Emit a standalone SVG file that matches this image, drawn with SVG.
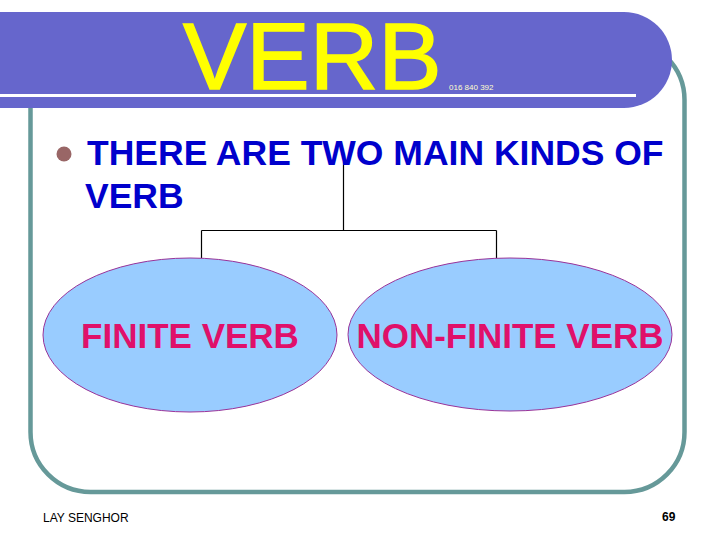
<svg xmlns="http://www.w3.org/2000/svg" width="720" height="540" viewBox="0 0 720 540">
<style>
.sans{font-family:"Liberation Sans",Arial,sans-serif}
.head{fill:#0000CC;font-size:35.5px;font-weight:bold}
.leaf{fill:#99CCFF;stroke:#993399;stroke-width:1}
.leaftxt{fill:#E0106A;font-size:35px;font-weight:bold;text-anchor:middle}
.conn{stroke:#000;stroke-width:1.2;fill:none}
</style>
<rect width="720" height="540" fill="#FFFFFF"/>
<g id="frame">
<rect x="30.5" y="40" width="654" height="452" rx="60" ry="60" fill="none" stroke="#669999" stroke-width="4.5"/>
</g>
<g id="title-bar">
<path d="M0,12 H624 A48,48 0 0 1 624,108 H0 Z" fill="#6666CC"/>
<rect x="0" y="94" width="636" height="3" fill="#FFFFFF"/>
<text x="183" y="89" class="sans" font-size="95" fill="#FFFF00" stroke="#FFFF00" stroke-width="1.5">VERB</text>
<text x="449" y="90" class="sans" font-size="8" fill="#FFFFCC">016 840 392</text>
</g>
<g id="connectors">
<path class="conn" d="M343.5,162 V230.5 M201.5,230.5 H496.5 M201.5,230.5 V258 M496.5,230.5 V258"/>
</g>
<g id="node-root">
<circle cx="64" cy="154" r="7.5" fill="#996666"/>
<text x="87" y="165" class="sans head">THERE ARE TWO MAIN KINDS OF</text>
<text x="85" y="208" class="sans head">VERB</text>
</g>
<g id="node-finite">
<ellipse cx="190" cy="335" rx="147" ry="77" class="leaf"/>
<text x="190" y="348" class="sans leaftxt">FINITE VERB</text>
</g>
<g id="node-nonfinite">
<ellipse cx="510" cy="334.5" rx="162" ry="76.5" class="leaf"/>
<text x="510" y="348" class="sans leaftxt">NON-FINITE VERB</text>
</g>
<g id="footer">
<text x="43" y="522" class="sans" font-size="12" fill="#000">LAY SENGHOR</text>
<text x="662" y="521" class="sans" font-size="12" font-weight="bold" fill="#000">69</text>
</g>
</svg>
